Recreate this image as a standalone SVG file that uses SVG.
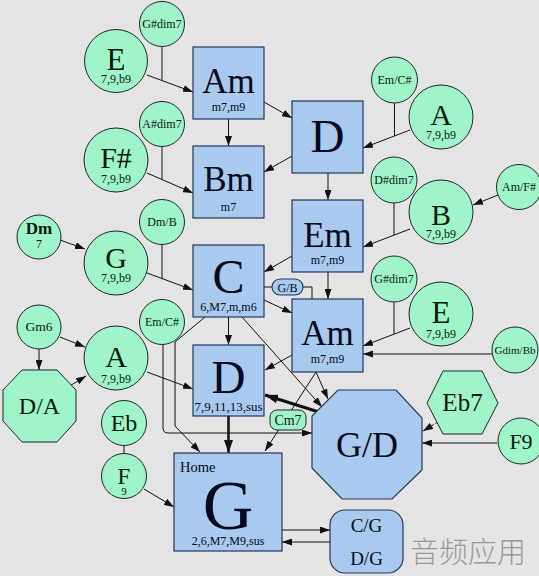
<svg xmlns="http://www.w3.org/2000/svg" width="539" height="576" viewBox="0 0 539 576">
<defs>
<marker id="ar" markerWidth="10" markerHeight="7" refX="10" refY="3.5" orient="auto" markerUnits="userSpaceOnUse"><path d="M0,0 L10,3.5 L0,7 z" fill="#111"/></marker>
<marker id="arb" markerWidth="13" markerHeight="9" refX="13" refY="4.5" orient="auto" markerUnits="userSpaceOnUse"><path d="M0,0 L13,4.5 L0,9 z" fill="#111"/></marker>
<style>
.bx{fill:#a9c9ee;stroke:#22385a;stroke-width:1.2}
.gr{fill:#9ff4c9;stroke:#1a2a20;stroke-width:1}
.ln{fill:none;stroke:#111;stroke-width:1}
.la{fill:none;stroke:#111;stroke-width:1;marker-end:url(#ar)}
.tb{font-family:"Liberation Serif",serif;fill:#050a20;text-anchor:middle}
.tg{font-family:"Liberation Serif",serif;fill:#0a1a10;text-anchor:middle}
</style>
</defs>
<rect width="539" height="576" fill="#e4e4e4"/>
<g id="connectors">
<path class="la" d="M147,75 L193,92"/>
<path class="ln" d="M162,47 V80.5"/>
<path class="la" d="M228.5,119 V146"/>
<path class="la" d="M147,173 L193,193"/>
<path class="ln" d="M162,147 V179.5"/>
<path class="la" d="M264,102 L292,118"/>
<path class="la" d="M292,156 L264,172"/>
<path class="la" d="M328,173 V200"/>
<path class="la" d="M410,130 L363,148"/>
<path class="ln" d="M394.5,103 V136"/>
<path class="la" d="M498,195 L473,205"/>
<path class="la" d="M410,229 L363,247"/>
<path class="ln" d="M394,203 V235"/>
<path class="la" d="M292,256 L264,272"/>
<path class="la" d="M328,272 V299"/>
<path class="ln" d="M264,287 H272 M303,287 H312 V299"/>
<path class="la" d="M264,300 L292,313"/>
<path class="la" d="M60,240 L85,249"/>
<path class="la" d="M147,273 L193,290"/>
<path class="ln" d="M162,245 V278.5"/>
<path class="la" d="M228.5,317 V345"/>
<path class="la" d="M60,337 L85,347"/>
<path class="la" d="M39,349 V370"/>
<path class="la" d="M68,387 L86,376"/>
<path class="la" d="M147,372 L193,389"/>
<path class="la" d="M163,345 V428 Q163,433 168,433 H312"/>
<path class="la" d="M205,317 L175,342 V426 L200,452"/>
<path class="la" d="M242,317 L322,407"/>
<path class="la" d="M292,355 L265,370"/>
<path class="la" d="M316,372 L328,399"/>
<path class="la" d="M316,372 L265,451"/>
<path fill="none" stroke="#111" stroke-width="3" marker-end="url(#arb)" d="M322,413 L265,395"/>
<path fill="none" stroke="#111" stroke-width="2.5" marker-end="url(#arb)" d="M228.5,416 V453"/>
<path class="la" d="M144,489 L174,507"/>
<path class="la" d="M282,530 H330"/>
<path class="la" d="M330,542 H282"/>
<path class="la" stroke-dasharray="3,2" d="M438,422 L423,431"/>
<path class="la" d="M497,443 H422"/>
<path class="la" d="M492,354 H363"/>
<path class="la" d="M410,328 L363,346"/>
<path class="ln" d="M394,302 V334"/>
<path class="ln" d="M124,445.5 V453.5"/>
</g>
<g id="n-Am1"><rect class="bx" x="193" y="47" width="71" height="72"/><text class="tb" x="228.5" y="93" font-size="35">Am</text><text class="tb" x="228.5" y="111" font-size="12">m7,m9</text></g>
<g id="n-Bm"><rect class="bx" x="193" y="146" width="71" height="72"/><text class="tb" x="228.5" y="191" font-size="35">Bm</text><text class="tb" x="228.5" y="211" font-size="12">m7</text></g>
<g id="n-C"><rect class="bx" x="193" y="245" width="71" height="72"/><text class="tb" x="228.5" y="293" font-size="48">C</text><text class="tb" x="228.5" y="311" font-size="12">6,M7,m,m6</text></g>
<g id="n-D1"><rect class="bx" x="193" y="345" width="71" height="71"/><text class="tb" x="228.5" y="393" font-size="47">D</text><text class="tb" x="228.5" y="411" font-size="13">7,9,11,13,sus</text></g>
<g id="n-D2"><rect class="bx" x="292" y="101" width="71" height="72"/><text class="tb" x="327.5" y="152" font-size="47">D</text></g>
<g id="n-Em"><rect class="bx" x="292" y="200" width="71" height="72"/><text class="tb" x="327.5" y="247" font-size="35">Em</text><text class="tb" x="327.5" y="264" font-size="12">m7,m9</text></g>
<g id="n-Am2"><rect class="bx" x="292" y="299" width="71" height="73"/><text class="tb" x="327.5" y="345" font-size="35">Am</text><text class="tb" x="327.5" y="363" font-size="12">m7,m9</text></g>
<g id="n-G"><rect class="bx" x="174" y="453" width="108" height="98"/><text class="tb" x="180" y="472" font-size="14.5" text-anchor="start" style="text-anchor:start">Home</text><text class="tb" x="228" y="529" font-size="70">G</text><text class="tb" x="228" y="545" font-size="12">2,6,M7,M9,sus</text></g>
<g id="n-GD"><polygon class="bx" points="338,390 396,390 422,418 422,470 392,499 342,499 312,468 312,416"/><text class="tb" x="367" y="457" font-size="36">G/D</text></g>
<g id="n-CGDG"><rect class="bx" x="330" y="510" width="73" height="63" rx="15"/><text class="tb" x="366.5" y="532" font-size="19">C/G</text><text class="tb" x="366.5" y="565" font-size="19">D/G</text></g>
<g id="n-GB"><rect class="bx" x="272" y="279" width="31" height="16" rx="8"/><text class="tb" x="287.5" y="291.5" font-size="12">G/B</text></g>
<g id="n-Cm7"><rect class="gr" x="270" y="410" width="36" height="20" rx="7"/><text class="tg" x="288" y="425" font-size="14">Cm7</text></g>
<g id="n-Gsdim7a"><circle class="gr" cx="162" cy="24" r="22.5"/><text class="tg" x="162" y="28" font-size="12">G#dim7</text></g>
<g id="n-E1"><circle class="gr" cx="116" cy="61" r="31.5"/><text class="tg" x="116" y="70" font-size="31">E</text><text class="tg" x="116" y="83" font-size="12">7,9,b9</text></g>
<g id="n-Asdim7"><circle class="gr" cx="162" cy="124" r="22.5"/><text class="tg" x="162" y="128" font-size="12">A#dim7</text></g>
<g id="n-Fs"><circle class="gr" cx="116" cy="160" r="32"/><text class="tg" x="116" y="168" font-size="30">F#</text><text class="tg" x="116" y="183" font-size="12">7,9,b9</text></g>
<g id="n-EmCs1"><circle class="gr" cx="394.5" cy="80" r="23"/><text class="tg" x="394.5" y="84" font-size="12">Em/C#</text></g>
<g id="n-A1"><circle class="gr" cx="441" cy="117" r="32"/><text class="tg" x="441" y="125" font-size="30">A</text><text class="tg" x="441" y="139" font-size="12">7,9,b9</text></g>
<g id="n-Dsdim7"><circle class="gr" cx="394" cy="180" r="23"/><text class="tg" x="394" y="184" font-size="12">D#dim7</text></g>
<g id="n-AmFs"><circle class="gr" cx="519" cy="187" r="22.5"/><text class="tg" x="519" y="191" font-size="12">Am/F#</text></g>
<g id="n-B"><circle class="gr" cx="441" cy="212" r="32"/><text class="tg" x="441" y="225" font-size="30">B</text><text class="tg" x="441" y="238" font-size="12">7,9,b9</text></g>
<g id="n-Gsdim7b"><circle class="gr" cx="394" cy="279" r="23"/><text class="tg" x="394" y="283" font-size="12">G#dim7</text></g>
<g id="n-E2"><circle class="gr" cx="441" cy="314" r="32"/><text class="tg" x="441" y="323" font-size="31">E</text><text class="tg" x="441" y="338" font-size="12">7,9,b9</text></g>
<g id="n-GdimBb"><circle class="gr" cx="515" cy="350" r="23"/><text class="tg" x="515" y="354" font-size="11">Gdim/Bb</text></g>
<g id="n-Dm"><circle class="gr" cx="39" cy="237" r="22"/><text class="tg" x="39" y="234" font-size="17" font-weight="bold">Dm</text><text class="tg" x="39" y="248" font-size="12">7</text></g>
<g id="n-G1"><circle class="gr" cx="116" cy="263" r="32"/><text class="tg" x="116" y="268" font-size="30">G</text><text class="tg" x="116" y="282" font-size="12">7,9,b9</text></g>
<g id="n-DmB"><circle class="gr" cx="162" cy="222" r="22.5"/><text class="tg" x="162" y="226" font-size="12">Dm/B</text></g>
<g id="n-EmCs2"><circle class="gr" cx="162" cy="322" r="22.5"/><text class="tg" x="162" y="326" font-size="12">Em/C#</text></g>
<g id="n-Gm6"><circle class="gr" cx="39" cy="327" r="22"/><text class="tg" x="39" y="331" font-size="13.5">Gm6</text></g>
<g id="n-A2"><circle class="gr" cx="116" cy="358" r="32"/><text class="tg" x="116" y="367" font-size="30">A</text><text class="tg" x="116" y="383" font-size="12">7,9,b9</text></g>
<g id="n-DA"><polygon class="gr" points="22,370 57,370 76,390 76,421 57,442 22,442 3,421 3,390"/><text class="tg" x="39.5" y="414" font-size="24">D/A</text></g>
<g id="n-Eb"><circle class="gr" cx="124" cy="423" r="22.5"/><text class="tg" x="124" y="431" font-size="24">Eb</text></g>
<g id="n-F"><circle class="gr" cx="124" cy="476" r="22.5"/><text class="tg" x="124" y="484" font-size="23">F</text><text class="tg" x="124" y="495" font-size="11">9</text></g>
<g id="n-Eb7"><polygon class="gr" points="427,403 443,371 482,371 498,403 482,434 443,434"/><text class="tg" x="462.5" y="411" font-size="25">Eb7</text></g>
<g id="n-F9"><circle class="gr" cx="521" cy="441" r="23"/><text class="tg" x="521" y="449" font-size="22">F9</text></g>
<text x="468" y="563" font-family="'Noto Sans CJK SC',sans-serif" font-size="29" font-weight="300" fill="#9a9a9a" text-anchor="middle">音频应用</text>
</svg>
